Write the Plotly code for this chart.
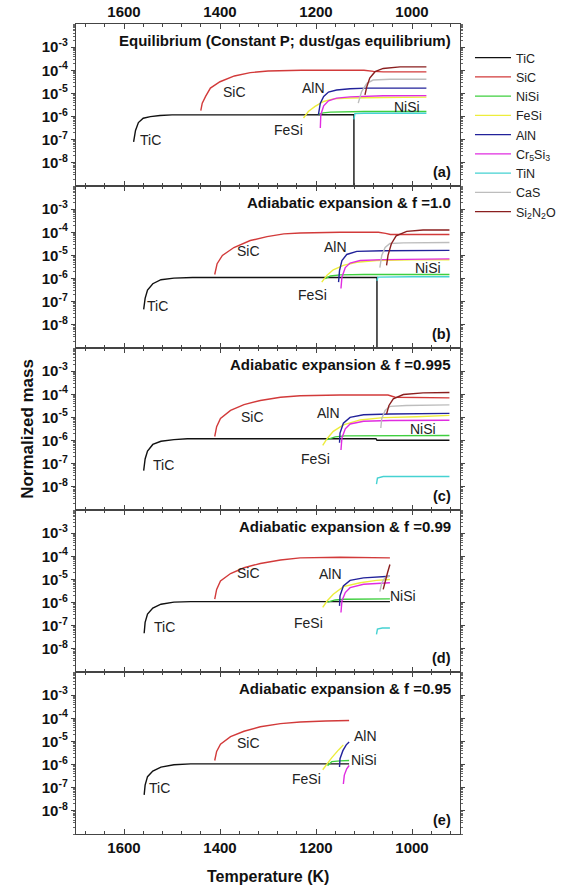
import plotly.graph_objects as go
from plotly.subplots import make_subplots

# ---------------- data (temperature K, normalized mass) ----------------
SPECIES = ["TiC", "SiC", "NiSi", "FeSi", "AlN", "Cr5Si3", "TiN", "CaS", "Si2N2O"]
LEGEND_NAMES = ["TiC", "SiC", "NiSi", "FeSi", "AlN", "Cr<sub>5</sub>Si<sub>3</sub>",
                "TiN", "CaS", "Si<sub>2</sub>N<sub>2</sub>O"]
COLORS = ["#111111", "#d23a3a", "#3fcf3f", "#eded3c", "#22229a", "#e02ce0",
          "#45d2d2", "#bdbdbd", "#8a1f1f"]

# Panel (a) equilibrium
A_TIC = ([1580, 1576, 1570, 1560, 1545, 1525, 1500, 1400, 1300, 1200, 1121, 1121],
         [8e-8, 2.5e-7, 5.5e-7, 8.5e-7, 1.0e-6, 1.12e-6, 1.18e-6, 1.2e-6, 1.2e-6, 1.2e-6, 1.2e-6, 1e-10])
A_SIC = ([1440, 1437, 1430, 1420, 1400, 1370, 1337, 1300, 1230, 1150, 1100, 1080, 1060, 970],
         [1.8e-6, 3.8e-6, 7.4e-6, 1.7e-5, 3.2e-5, 5.7e-5, 7.9e-5, 9.3e-5, 1.0e-4, 1.0e-4, 1.0e-4, 9e-5, 8.5e-5, 8.5e-5])
A_NISI = ([1195, 1185, 1170, 1140, 1100, 970], [1.25e-6, 1.45e-6, 1.55e-6, 1.6e-6, 1.65e-6, 1.65e-6])
A_FESI = ([1226, 1216, 1202, 1184, 1164, 1129, 1060, 970],
          [8.7e-7, 1.66e-6, 2.75e-6, 4.5e-6, 5.8e-6, 6.3e-6, 6.7e-6, 6.9e-6])
A_ALN = ([1195, 1191, 1184, 1174, 1157, 1129, 1094, 970],
         [1.2e-6, 3.8e-6, 7.4e-6, 1.15e-5, 1.4e-5, 1.6e-5, 1.7e-5, 1.7e-5])
A_CR5SI3 = ([1191, 1190, 1184, 1174, 1157, 1129, 1060, 970],
            [3.2e-7, 1.2e-6, 2.9e-6, 4.8e-6, 6.3e-6, 7.1e-6, 7.9e-6, 8e-6])
A_TIN = ([1121, 1119, 1100, 970], [7.5e-7, 1.35e-6, 1.4e-6, 1.4e-6])
A_CAS = ([1112, 1105, 1094, 1081, 1046, 970], [3.8e-6, 1.2e-5, 2.75e-5, 3.8e-5, 4.1e-5, 4.1e-5])
A_SI2N2O = ([1098, 1094, 1088, 1077, 1060, 1025, 970], [8.7e-6, 2e-5, 4.6e-5, 8.7e-5, 1.2e-4, 1.4e-4, 1.4e-4])

# Panel (b) adiabatic, f = 1.0
B_TIC = ([1559, 1556, 1551, 1540, 1523, 1496, 1457, 1300, 1073, 1073],
         [4.7e-8, 1.4e-7, 3.2e-7, 6e-7, 8.9e-7, 1.05e-6, 1.12e-6, 1.12e-6, 1.12e-6, 1e-10])
B_SIC = ([1411, 1406, 1395, 1371, 1337, 1302, 1267, 1233, 1150, 1070, 1055, 1045, 922],
         [1.5e-6, 4.4e-6, 1e-5, 2.2e-5, 4.4e-5, 6.5e-5, 8.5e-5, 9.3e-5, 1e-4, 1e-4, 9e-5, 8e-5, 8e-5])
B_NISI = ([1181, 1170, 1150, 1100, 922], [1.0e-6, 1.3e-6, 1.45e-6, 1.5e-6, 1.5e-6])
B_FESI = ([1188, 1177, 1164, 1143, 1115, 1074, 1000, 922],
          [7e-7, 1.4e-6, 2.4e-6, 3.7e-6, 5.1e-6, 6e-6, 6.4e-6, 6.5e-6])
B_ALN = ([1153, 1151, 1146, 1136, 1115, 1060, 922], [7e-7, 2.2e-6, 6e-6, 1.1e-5, 1.5e-5, 1.6e-5, 1.65e-5])
B_CR5SI3 = ([1148, 1146, 1139, 1129, 1108, 1060, 922], [3.7e-7, 1.15e-6, 3e-6, 4.7e-6, 6e-6, 6.6e-6, 7.1e-6])
B_TIN = ([1073, 1071, 1000, 922], [8e-7, 1.15e-6, 1.2e-6, 1.2e-6])
B_CAS = ([1067, 1063, 1056, 1046, 1018, 922], [3e-6, 1e-5, 2.2e-5, 3.3e-5, 3.5e-5, 3.6e-5])
B_SI2N2O = ([1053, 1050, 1043, 1033, 1011, 977, 922], [3.7e-6, 1e-5, 3.2e-5, 7e-5, 1.1e-4, 1.26e-4, 1.26e-4])

# Panel (c) adiabatic, f = 0.995
C_TIC = ([1559, 1556, 1551, 1540, 1523, 1496, 1468, 1300, 1075, 1073, 922],
         [5e-8, 1.6e-7, 3.5e-7, 6.8e-7, 9.3e-7, 1.1e-6, 1.2e-6, 1.2e-6, 1.2e-6, 1.03e-6, 1.03e-6])
C_SIC = ([1411, 1407, 1399, 1378, 1350, 1316, 1274, 1233, 1150, 1050, 1035, 922],
         [1.5e-6, 4e-6, 9e-6, 2e-5, 3.6e-5, 5.4e-5, 7.4e-5, 8.7e-5, 9.3e-5, 9.3e-5, 7.5e-5, 7e-5])
C_NISI = ([1177, 1160, 1140, 1100, 922], [1.1e-6, 1.45e-6, 1.6e-6, 1.62e-6, 1.65e-6])
C_FESI = ([1186, 1177, 1164, 1143, 1108, 1060, 991, 922],
          [6.2e-7, 1.2e-6, 2.5e-6, 4.8e-6, 7.8e-6, 9.8e-6, 1.07e-5, 1.23e-5])
C_ALN = ([1151, 1150, 1143, 1129, 1101, 1046, 922], [8e-7, 2.1e-6, 5.6e-6, 1e-5, 1.3e-5, 1.4e-5, 1.5e-5])
C_CR5SI3 = ([1148, 1146, 1139, 1129, 1101, 1046, 922], [3.9e-7, 1.3e-6, 3.2e-6, 5.2e-6, 6.8e-6, 7.4e-6, 7.6e-6])
C_TIN = ([1074, 1072, 1060, 922], [1.3e-8, 2.4e-8, 2.8e-8, 2.8e-8])
C_CAS = ([1065, 1063, 1056, 1046, 1012, 922], [3.5e-6, 9e-6, 2e-5, 3e-5, 3.3e-5, 3.5e-5])
C_SI2N2O = ([1053, 1048, 1039, 1018, 977, 922], [1.4e-5, 3.3e-5, 6.3e-5, 9.8e-5, 1.15e-4, 1.2e-4])

# Panel (d) adiabatic, f = 0.99
D_TIC = ([1558, 1556, 1551, 1540, 1523, 1496, 1461, 1300, 1046],
         [4.7e-8, 1.4e-7, 3.2e-7, 5.8e-7, 8.5e-7, 1.05e-6, 1.1e-6, 1.1e-6, 1.1e-6])
D_SIC = ([1411, 1407, 1399, 1378, 1350, 1316, 1274, 1233, 1150, 1052, 1046],
         [1.4e-6, 3.7e-6, 8.5e-6, 1.8e-5, 3.2e-5, 4.9e-5, 6.9e-5, 8.5e-5, 9.1e-5, 9.1e-5, 8.5e-5])
D_NISI = ([1176, 1160, 1140, 1046], [1.05e-6, 1.3e-6, 1.4e-6, 1.45e-6])
D_FESI = ([1186, 1177, 1164, 1143, 1108, 1074, 1046], [6.2e-7, 1.17e-6, 2.3e-6, 4.9e-6, 7.2e-6, 9.1e-6, 1e-5])
D_ALN = ([1151, 1150, 1143, 1129, 1101, 1046], [7.2e-7, 1.95e-6, 5.2e-6, 9.1e-6, 1.17e-5, 1.38e-5])
D_CR5SI3 = ([1148, 1146, 1139, 1129, 1101, 1046], [3.7e-7, 1.17e-6, 2.7e-6, 4.4e-6, 6.2e-6, 7.2e-6])
D_TIN = ([1074, 1072, 1062, 1046], [4.2e-8, 7.2e-8, 8e-8, 8e-8])
D_CAS = ([1067, 1063, 1056, 1046], [3e-6, 7.2e-6, 1.2e-5, 1.4e-5])
D_SI2N2O = ([1060, 1056, 1051, 1046], [3.7e-6, 8.5e-6, 1.95e-5, 4.4e-5])

# Panel (e) adiabatic, f = 0.95
E_TIC = ([1558, 1556, 1551, 1540, 1523, 1496, 1461, 1300, 1131],
         [4.9e-8, 1.3e-7, 3e-7, 5.2e-7, 7.8e-7, 9.8e-7, 1.07e-6, 1.07e-6, 1.07e-6])
E_SIC = ([1411, 1407, 1399, 1378, 1350, 1316, 1274, 1233, 1180, 1131],
         [1.5e-6, 3.7e-6, 7.6e-6, 1.6e-5, 2.75e-5, 4.3e-5, 5.9e-5, 6.9e-5, 7.6e-5, 8e-5])
E_NISI = ([1176, 1167, 1150, 1131], [9e-7, 1.35e-6, 1.45e-6, 1.5e-6])
E_FESI = ([1186, 1177, 1167, 1153, 1143], [6e-7, 1.07e-6, 2e-6, 4.3e-6, 7.1e-6])
E_ALN = ([1151, 1150, 1144, 1137, 1131], [7.8e-7, 1.8e-6, 4e-6, 7.1e-6, 9.5e-6])
E_CR5SI3 = ([1143, 1141, 1136, 1131], [1.45e-7, 3.5e-7, 6.6e-7, 9.1e-7])

PANELS = [
    [A_TIC, A_SIC, A_NISI, A_FESI, A_ALN, A_CR5SI3, A_TIN, A_CAS, A_SI2N2O],
    [B_TIC, B_SIC, B_NISI, B_FESI, B_ALN, B_CR5SI3, B_TIN, B_CAS, B_SI2N2O],
    [C_TIC, C_SIC, C_NISI, C_FESI, C_ALN, C_CR5SI3, C_TIN, C_CAS, C_SI2N2O],
    [D_TIC, D_SIC, D_NISI, D_FESI, D_ALN, D_CR5SI3, D_TIN, D_CAS, D_SI2N2O],
    [E_TIC, E_SIC, E_NISI, E_FESI, E_ALN, E_CR5SI3, None, None, None],
]

TITLES = ["Equilibrium (Constant P; dust/gas equilibrium)",
          "Adiabatic expansion &amp; f =1.0",
          "Adiabatic expansion &amp; f =0.995",
          "Adiabatic expansion &amp; f =0.99",
          "Adiabatic expansion &amp; f =0.95"]
TAGS = ["(a)", "(b)", "(c)", "(d)", "(e)"]

# in-panel species labels: (text, temperature, log10 mass)
LABELS_A = [("TiC", 1544, -7.0), ("SiC", 1370, -4.93), ("FeSi", 1258, -6.56), ("AlN", 1206, -4.76), ("NiSi", 1011, -5.57)]
LABELS_B = [("TiC", 1530, -7.19), ("SiC", 1341, -4.82), ("AlN", 1160, -4.65), ("FeSi", 1208, -6.72), ("NiSi", 967, -5.53)]
LABELS_C = [("TiC", 1517, -7.05), ("SiC", 1333, -4.97), ("AlN", 1174, -4.8), ("FeSi", 1202, -6.8), ("NiSi", 977, -5.5)]
LABELS_D = [("TiC", 1516, -7.04), ("SiC", 1340, -4.71), ("AlN", 1170, -4.76), ("FeSi", 1216, -6.9), ("NiSi", 1018, -5.71)]
LABELS_E = [("TiC", 1527, -7.03), ("SiC", 1340, -5.05), ("AlN", 1096, -4.77), ("NiSi", 1101, -5.8), ("FeSi", 1220, -6.63)]
PANEL_LABELS = [LABELS_A, LABELS_B, LABELS_C, LABELS_D, LABELS_E]

X_TICKS = [1600, 1400, 1200, 1000]
Y_TICKS = [1e-8, 1e-7, 1e-6, 1e-5, 1e-4, 1e-3]
Y_TICKTEXT = ["10<sup>-8</sup>", "10<sup>-7</sup>", "10<sup>-6</sup>", "10<sup>-5</sup>",
              "10<sup>-4</sup>", "10<sup>-3</sup>"]

# ---------------- figure ----------------
FONT = "Liberation Sans, Arial, sans-serif"
fig = make_subplots(rows=5, cols=1, shared_xaxes=True, vertical_spacing=0)

for p, curves in enumerate(PANELS):
    for s, curve in enumerate(curves):
        if curve is None:
            continue
        fig.add_trace(go.Scatter(
            x=curve[0], y=curve[1], mode="lines",
            name=LEGEND_NAMES[s], showlegend=(p == 0),
            line=dict(color=COLORS[s], width=1.4),
        ), row=p + 1, col=1)

annotations = []
for p in range(5):
    sfx = "" if p == 0 else str(p + 1)
    annotations.append(dict(text="<b>" + TITLES[p] + "</b>", xref=f"x{sfx} domain", yref=f"y{sfx} domain",
                            x=0.982, y=0.9, xanchor="right", yanchor="middle", showarrow=False,
                            font=dict(family=FONT, size=15, color="#111")))
    annotations.append(dict(text="<b>" + TAGS[p] + "</b>", xref=f"x{sfx} domain", yref=f"y{sfx} domain",
                            x=0.982, y=0.088, xanchor="right", yanchor="middle", showarrow=False,
                            font=dict(family=FONT, size=14.5, color="#111")))
    for txt, tx, ly in PANEL_LABELS[p]:
        annotations.append(dict(text=txt, xref=f"x{sfx}", yref=f"y{sfx}", x=tx, y=ly,
                                xanchor="center", yanchor="middle", showarrow=False,
                                font=dict(family=FONT, size=14, color="#222")))

annotations.append(dict(text="<b>Normalized mass</b>", xref="paper", yref="paper", x=-0.128, y=0.5,
                        textangle=-90, showarrow=False, xanchor="center", yanchor="middle",
                        font=dict(family=FONT, size=17, color="#111")))
annotations.append(dict(text="<b>Temperature (K)</b>", xref="paper", yref="paper", x=0.5, y=-0.053,
                        showarrow=False, xanchor="center", yanchor="middle",
                        font=dict(family=FONT, size=16, color="#111")))

axis_line = dict(showline=True, linecolor="#444", linewidth=1.4, mirror="allticks", showgrid=False,
                 zeroline=False, automargin=False)
for p in range(5):
    xa = dict(axis_line, range=[1700, 900], tickmode="array", tickvals=X_TICKS,
              ticktext=[f"<b>{v}</b>" for v in X_TICKS], ticks="inside", ticklen=5, tickcolor="#444",
              minor=dict(ticks="inside", ticklen=3, dtick=40, tick0=0, tickcolor="#444", showgrid=False),
              tickfont=dict(family=FONT, size=15, color="#111"),
              showticklabels=(p == 0 or p == 4))
    if p == 0:
        xa["side"] = "top"
    fig.update_xaxes(xa, row=p + 1, col=1)
    fig.update_yaxes(dict(axis_line, type="log", range=[-9, -2], tickmode="array", tickvals=Y_TICKS,
                          ticktext=[f"<b>{t}</b>" for t in Y_TICKTEXT], ticks="outside", ticklen=4,
                          tickcolor="#444",
                          minor=dict(ticks="outside", ticklen=2, dtick="D1", tickcolor="#666", showgrid=False),
                          tickfont=dict(family=FONT, size=15, color="#111")),
                     row=p + 1, col=1)

fig.update_layout(
    width=565, height=886,
    margin=dict(l=76, r=105, t=24, b=52, autoexpand=False),
    paper_bgcolor="white", plot_bgcolor="white",
    font=dict(family=FONT, color="#111"),
    annotations=annotations,
    legend=dict(x=1.026, y=0.9765, xanchor="left", yanchor="top", bgcolor="rgba(0,0,0,0)",
                font=dict(family=FONT, size=12.5, color="#222"), itemwidth=36, tracegroupgap=0),
    showlegend=True,
)

# remove the default page margin and scrollbars so the figure fills the window exactly
fig.write_html(
    "out.html",
    config={"displayModeBar": False},
    post_script=("document.documentElement.style.overflow='hidden';"
                 "document.body.style.overflow='hidden';"
                 "document.body.style.margin='0px';"
                 "document.body.style.padding='0px';"),
)
